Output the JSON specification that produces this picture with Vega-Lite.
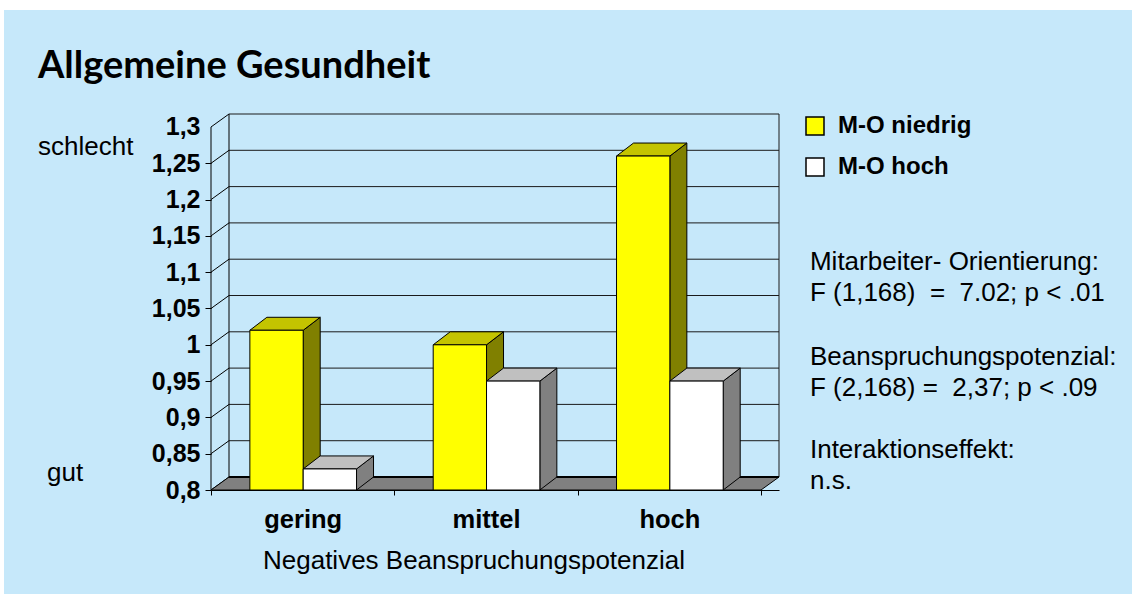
{"$schema":"https://vega.github.io/schema/vega-lite/v6.json","width":568,"height":376,"autosize":"none","padding":{"left":211,"top":114,"right":353,"bottom":104},"background":"white","config":{"view":{"stroke":null},"font":"Liberation Sans","axis":{"labelOverlap":false,"labelBound":false}},
"title":{"text":"Allgemeine Gesundheit","anchor":"start","frame":"group","dx":-173,"offset":-114,"baseline":"bottom","font":"Lato","fontWeight":"bold","fontSize":38,"color":"#000000"},
"data":{"values":[{"one":1}]},
"datasets":{"bars":[{"group":"gering","series":"M-O niedrig","value":1.02},{"group":"gering","series":"M-O hoch","value":0.829},{"group":"mittel","series":"M-O niedrig","value":1.0},{"group":"mittel","series":"M-O hoch","value":0.95},{"group":"hoch","series":"M-O niedrig","value":1.26},{"group":"hoch","series":"M-O hoch","value":0.95}],"ticks":[{"tick":0.8},{"tick":0.85},{"tick":0.9},{"tick":0.95},{"tick":1.0},{"tick":1.05},{"tick":1.1},{"tick":1.15},{"tick":1.2},{"tick":1.25},{"tick":1.3}],"ends":[{"t":0},{"t":1}]},
"layer":[
{"mark":{"type":"rect","fill":"#C6E8FA"},"encoding":{"x":{"datum":-1.129,"type":"quantitative","scale":{"domain":[0,3.0982]},"axis":{"values":[0,0.5,1,1.5,2,2.5,3],"labelExpr":"datum.value==0.5?'gering':datum.value==1.5?'mittel':datum.value==2.5?'hoch':''","tickOpacity":{"condition":{"test":"datum.value%1==0","value":1},"value":0},"tickSize":5,"tickColor":"#000000","domainColor":"#000000","labelFont":"Liberation Sans","labelFontWeight":"bold","labelFontSize":25.5,"labelColor":"#000000","labelPadding":12,"labelFlush":false,"labelOverlap":false,"grid":false,"zindex":1,"title":"Negatives Beanspruchungspotenzial","titleFont":"Liberation Sans","titleFontWeight":"normal","titleFontSize":26,"titleColor":"#000000","titleX":262.5,"titleY":78,"titleBaseline":"alphabetic"}},"x2":{"datum":5.024},"y":{"datum":0.6567,"type":"quantitative","scale":{"domain":[0.8,1.3179]},"axis":{"tickCount":11,"labelExpr":"replace(format(datum.value,'.2~f'),'.',',')","tickOpacity":{"condition":{"test":"datum.value>1.29","value":0},"value":1},"tickSize":6,"tickColor":"#000000","domain":false,"labelFont":"Liberation Sans","labelFontWeight":"bold","labelFontSize":25,"labelColor":"#000000","labelPadding":5,"labelFlush":false,"labelOverlap":false,"labelSeparation":0,"grid":false,"zindex":1,"title":null}},"y2":{"datum":1.4612}}},
{"data":{"name":"ticks"},"transform":[{"calculate":"datum.tick+0.0179","as":"back"}],"layer":[
{"mark":{"type":"rule","color":"#1a1a1a","strokeWidth":1},"encoding":{"x":{"datum":0.0982,"type":"quantitative","scale":{"domain":[0,3.0982]}},"x2":{"datum":3.0982},"y":{"field":"back","type":"quantitative","scale":{"domain":[0.8,1.3179]}}}},
{"mark":{"type":"rule","color":"#000000","strokeWidth":1},"encoding":{"x":{"datum":0,"type":"quantitative","scale":{"domain":[0,3.0982]}},"x2":{"datum":0.0982},"y":{"field":"tick","type":"quantitative","scale":{"domain":[0.8,1.3179]}},"y2":{"field":"back"}}}
]},
{"mark":{"type":"rule","color":"#000000","strokeWidth":1},"encoding":{"x":{"datum":0,"type":"quantitative","scale":{"domain":[0,3.0982]}},"y":{"datum":0.8,"type":"quantitative","scale":{"domain":[0.8,1.3179]}},"y2":{"datum":1.3}}},
{"mark":{"type":"rule","color":"#000000","strokeWidth":1},"encoding":{"x":{"datum":0.0982,"type":"quantitative","scale":{"domain":[0,3.0982]}},"y":{"datum":0.8179,"type":"quantitative","scale":{"domain":[0.8,1.3179]}},"y2":{"datum":1.3179}}},
{"mark":{"type":"rule","color":"#1a1a1a","strokeWidth":1},"encoding":{"x":{"datum":3.0982,"type":"quantitative","scale":{"domain":[0,3.0982]}},"y":{"datum":0.8179,"type":"quantitative","scale":{"domain":[0.8,1.3179]}},"y2":{"datum":1.3179}}},
{"data":{"name":"ends"},"transform":[{"calculate":"datum.t*0.0982","as":"xa"},{"calculate":"3+datum.t*0.0982","as":"xb"},{"calculate":"0.8+datum.t*0.0179","as":"yy"}],"mark":{"type":"area","orient":"horizontal","fill":"#808080","stroke":"#000000","strokeWidth":1},"encoding":{"x":{"field":"xa","type":"quantitative","scale":{"domain":[0,3.0982]}},"x2":{"field":"xb"},"y":{"field":"yy","type":"quantitative","scale":{"domain":[0.8,1.3179]}}}},
{"mark":{"type":"rule","color":"#000000","strokeWidth":2},"encoding":{"x":{"datum":0.0982,"type":"quantitative","scale":{"domain":[0,3.0982]}},"x2":{"datum":3.0982},"y":{"datum":0.8179,"type":"quantitative","scale":{"domain":[0.8,1.3179]}}}},
{"data":{"name":"bars"},"transform":[{"filter":"datum.series=='M-O niedrig'"},{"calculate":"indexof(['gering','mittel','hoch'],datum.group)+0.212","as":"left"},{"calculate":"datum.left+0.2909","as":"right"},{"calculate":"[0,1]","as":"t"},{"flatten":["t"]},{"calculate":"datum.right+datum.t*0.0927","as":"sx"},{"calculate":"datum.value+datum.t*0.0179","as":"sy"},{"calculate":"0.8+datum.t*0.0179","as":"sb"},{"calculate":"datum.left+datum.t*0.0927","as":"tl"}],"layer":[
{"mark":{"type":"area","orient":"vertical","fill":"#808000","stroke":"#000000","strokeWidth":1},"encoding":{"detail":{"field":"group"},"x":{"field":"sx","type":"quantitative","scale":{"domain":[0,3.0982]}},"y":{"field":"sy","type":"quantitative","scale":{"domain":[0.8,1.3179]}},"y2":{"field":"sb"}}},
{"mark":{"type":"area","orient":"horizontal","fill":"#C4C400","stroke":"#000000","strokeWidth":1},"encoding":{"detail":{"field":"group"},"x":{"field":"tl","type":"quantitative","scale":{"domain":[0,3.0982]}},"x2":{"field":"sx"},"y":{"field":"sy","type":"quantitative","scale":{"domain":[0.8,1.3179]}}}}
]},
{"data":{"name":"bars"},"transform":[{"filter":"datum.series=='M-O niedrig'"},{"calculate":"indexof(['gering','mittel','hoch'],datum.group)+0.212","as":"left"},{"calculate":"datum.left+0.2909","as":"right"}],"mark":{"type":"rect","stroke":"#000000","strokeWidth":1},"encoding":{"fill":{"field":"series","type":"nominal","scale":{"domain":["M-O niedrig","M-O hoch"],"range":["#FFFF00","#FFFFFF"]},"legend":{"orient":"none","legendX":592,"legendY":0,"title":null,"symbolType":"square","symbolSize":324,"symbolStrokeColor":"#000000","symbolStrokeWidth":1.5,"labelFont":"Liberation Sans","labelFontWeight":"bold","labelFontSize":24,"labelColor":"#000000","labelLimit":300,"labelOffset":11,"rowPadding":17}},"x":{"field":"left","type":"quantitative","scale":{"domain":[0,3.0982]}},"x2":{"field":"right"},"y":{"field":"value","type":"quantitative","scale":{"domain":[0.8,1.3179]}},"y2":{"datum":0.8}}},
{"data":{"name":"bars"},"transform":[{"filter":"datum.series=='M-O hoch'"},{"calculate":"indexof(['gering','mittel','hoch'],datum.group)+0.5029","as":"left"},{"calculate":"datum.left+0.2909","as":"right"},{"calculate":"[0,1]","as":"t"},{"flatten":["t"]},{"calculate":"datum.right+datum.t*0.0927","as":"sx"},{"calculate":"datum.value+datum.t*0.0179","as":"sy"},{"calculate":"0.8+datum.t*0.0179","as":"sb"},{"calculate":"datum.left+datum.t*0.0927","as":"tl"}],"layer":[
{"mark":{"type":"area","orient":"vertical","fill":"#808080","stroke":"#000000","strokeWidth":1},"encoding":{"detail":{"field":"group"},"x":{"field":"sx","type":"quantitative","scale":{"domain":[0,3.0982]}},"y":{"field":"sy","type":"quantitative","scale":{"domain":[0.8,1.3179]}},"y2":{"field":"sb"}}},
{"mark":{"type":"area","orient":"horizontal","fill":"#C0C0C0","stroke":"#000000","strokeWidth":1},"encoding":{"detail":{"field":"group"},"x":{"field":"tl","type":"quantitative","scale":{"domain":[0,3.0982]}},"x2":{"field":"sx"},"y":{"field":"sy","type":"quantitative","scale":{"domain":[0.8,1.3179]}}}}
]},
{"data":{"name":"bars"},"transform":[{"filter":"datum.series=='M-O hoch'"},{"calculate":"indexof(['gering','mittel','hoch'],datum.group)+0.5029","as":"left"},{"calculate":"datum.left+0.2909","as":"right"}],"mark":{"type":"rect","stroke":"#000000","strokeWidth":1},"encoding":{"fill":{"field":"series","type":"nominal","scale":{"domain":["M-O niedrig","M-O hoch"],"range":["#FFFF00","#FFFFFF"]}},"x":{"field":"left","type":"quantitative","scale":{"domain":[0,3.0982]}},"x2":{"field":"right"},"y":{"field":"value","type":"quantitative","scale":{"domain":[0.8,1.3179]}},"y2":{"datum":0.8}}},
{"mark":{"type":"text","text":"schlecht","align":"left","baseline":"alphabetic","font":"Liberation Sans","fontSize":26,"color":"#000000"},"encoding":{"x":{"datum":-0.9437,"type":"quantitative","scale":{"domain":[0,3.0982]}},"y":{"datum":1.2614,"type":"quantitative","scale":{"domain":[0.8,1.3179]}}}},
{"mark":{"type":"text","text":"gut","align":"left","baseline":"alphabetic","font":"Liberation Sans","fontSize":26,"color":"#000000"},"encoding":{"x":{"datum":-0.8946,"type":"quantitative","scale":{"domain":[0,3.0982]}},"y":{"datum":0.8124,"type":"quantitative","scale":{"domain":[0.8,1.3179]}}}},
{"mark":{"type":"text","text":["Mitarbeiter- Orientierung:","F (1,168)\u00a0\u00a0=\u00a0\u00a07.02; p < .01"],"lineHeight":31,"align":"left","baseline":"alphabetic","font":"Liberation Sans","fontSize":26,"color":"#000000"},"encoding":{"x":{"datum":3.267,"type":"quantitative","scale":{"domain":[0,3.0982]}},"y":{"datum":1.103,"type":"quantitative","scale":{"domain":[0.8,1.3179]}}}},
{"mark":{"type":"text","text":["Beanspruchungspotenzial:","F (2,168) =\u00a0\u00a02,37; p < .09"],"lineHeight":31,"align":"left","baseline":"alphabetic","font":"Liberation Sans","fontSize":26,"color":"#000000"},"encoding":{"x":{"datum":3.267,"type":"quantitative","scale":{"domain":[0,3.0982]}},"y":{"datum":0.9722,"type":"quantitative","scale":{"domain":[0.8,1.3179]}}}},
{"mark":{"type":"text","text":["Interaktionseffekt:","n.s."],"lineHeight":31,"align":"left","baseline":"alphabetic","font":"Liberation Sans","fontSize":26,"color":"#000000"},"encoding":{"x":{"datum":3.267,"type":"quantitative","scale":{"domain":[0,3.0982]}},"y":{"datum":0.8441,"type":"quantitative","scale":{"domain":[0.8,1.3179]}}}}
]}
